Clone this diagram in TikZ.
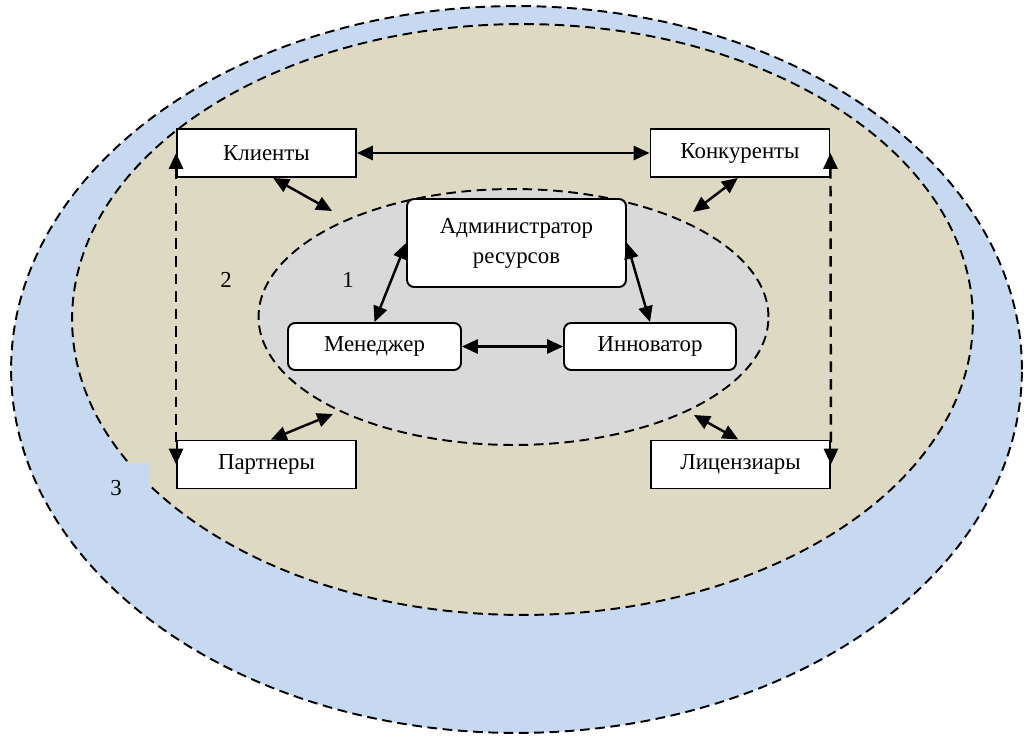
\documentclass[tikz,border=0pt]{standalone}
\usepackage{fontspec}
\setmainfont{Liberation Serif}
\usetikzlibrary{arrows.meta}
\definecolor{zoneblue}{RGB}{198,217,241}
\definecolor{zonetan}{RGB}{221,217,195}
\definecolor{zonegray}{RGB}{217,217,217}
\begin{document}
\begin{tikzpicture}[x=0.02cm,y=-0.02cm,
  font=\fontsize{13}{17}\selectfont,
  zone/.style={draw,line width=1.1pt,dash pattern=on 5.5pt off 3.2pt},
  actor/.style={draw,fill=white,line width=1.1pt,minimum width=3.58cm,minimum height=0.96cm,inner sep=0pt},
  role/.style={actor,rounded corners=4pt,minimum width=3.46cm,minimum height=0.94cm},
  link/.style={{Triangle[length=9pt,width=8pt]}-{Triangle[length=9pt,width=8pt]},line width=1.4pt}]
\useasboundingbox (0,0) rectangle (1024,737);
% zones
\draw[zone,fill=zoneblue] (516.5,369.5) ellipse (10.11cm and 7.27cm);
\draw[zone,fill=zonetan] (522.5,319.5) ellipse (9.01cm and 5.91cm);
\fill[zoneblue] (95,463) rectangle (149,512);
\draw[zone,fill=zonegray] (513.5,317) ellipse (5.1cm and 2.56cm);
\node (n1) at (348,280) {1};
\node (n2) at (226,280) {2};
\node (n3) at (116,488) {3};
% outer actors
\node[actor] (kl) at (266.5,153) {Клиенты};
\node[actor] (ko) at (740,153) {Конкуренты};
\node[actor] (pa) at (266.5,464.5) {Партнеры};
\node[actor] (li) at (740.5,464.5) {Лицензиары};
% inner roles
\node[role,minimum width=4.38cm,minimum height=1.76cm,align=center] (adm) at (516.5,243) {Администратор\\ресурсов};
\node[role] (men) at (374.5,346.5) {Менеджер};
\node[role,minimum width=3.44cm] (inn) at (650,346.5) {Инноватор};
% ends on the inner zone
\coordinate (klend) at (332,211);
\coordinate (koend) at (693,212);
\coordinate (paend) at (333,414);
\coordinate (liend) at (694,415);
\draw[link] (kl) -- (ko);
\draw[link,dash pattern=on 6pt off 4pt] (kl.west) -- (pa.west);
\draw[link,dash pattern=on 6pt off 4pt] (ko.east) -- (li.east);
\draw[link] (kl.-75) -- (klend);
\draw[link] (ko.-95) -- (koend);
\draw[link] (pa.80) -- (paend);
\draw[link] (li.95) -- (liend);
\draw[link] (men.north) -- (adm.west);
\draw[link] (adm.east) -- (inn.north);
\draw[link] (men) -- (inn);
\end{tikzpicture}
\end{document}
